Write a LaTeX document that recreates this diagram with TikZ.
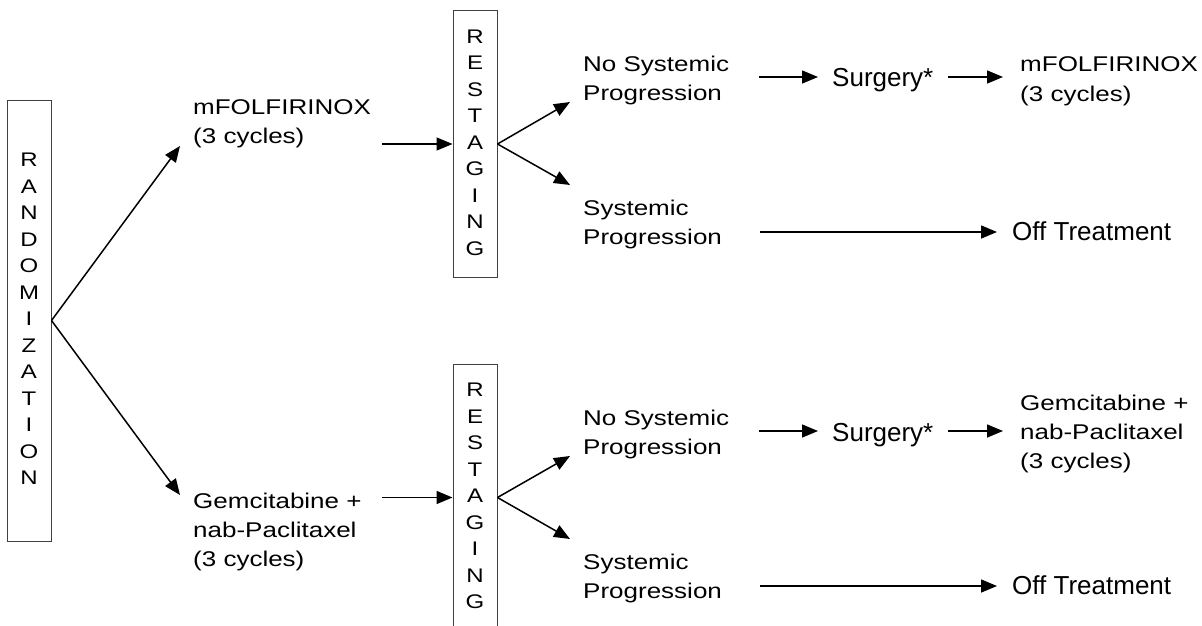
\documentclass[tikz,border=0pt]{standalone}
\usepackage{fontspec}
\setmainfont{Liberation Sans}
\usepackage{graphicx}
\usetikzlibrary{arrows.meta}

% multi-line label, slightly condensed vertically; baseline = first line
\newcommand\flowlines[1]{\scalebox{1}[0.82]{\begin{tabular}[t]{@{}l@{}}#1\end{tabular}}}
% one letter per line, centred
\newcommand\stackletters[1]{\scalebox{1}[0.82]{\begin{tabular}{@{}c@{}}#1\end{tabular}}}

\tikzset{
  lbl/.style={inner sep=0pt, anchor=base west, font=\fontsize{26}{35.7}\selectfont},
  vbox/.style={draw=black!75, line width=1pt, minimum width=44pt, inner sep=0pt,
               font=\fontsize{24}{32.3}\selectfont},
  arr/.style={line width=1.5pt, -{Triangle[length=16pt,width=13pt]}},
}

\begin{document}
\begin{tikzpicture}[x=1pt, y=-1pt]
\useasboundingbox (0,0) rectangle (1202,626);

% randomization column
\node[vbox, minimum height=441pt] (rand) at (29,320.5)
  {\stackletters{R\\A\\N\\D\\O\\M\\I\\Z\\A\\T\\I\\O\\N}};

% first arm
\node[lbl] (folA) at (193,114) {\flowlines{mFOLFIRINOX\\(3 cycles)}};
\node[vbox, minimum height=266pt] (rsA) at (475,144)
  {\stackletters{R\\E\\S\\T\\A\\G\\I\\N\\G}};
\node[lbl] (noA) at (583,71) {\flowlines{No Systemic\\Progression}};
\node[lbl] (sysA) at (583,215) {\flowlines{Systemic\\Progression}};
\node[lbl] (surgA) at (832,87) {Surgery*};
\node[lbl] (adjA) at (1020,72) {\flowlines{mFOLFIRINOX\\(3 cycles)}};
\node[lbl] (offA) at (1012,240) {Off Treatment};

% second arm
\node[lbl] (gemB) at (193,508) {\flowlines{Gemcitabine +\\nab-Paclitaxel\\(3 cycles)}};
\node[vbox, minimum height=266pt] (rsB) at (475,497.5)
  {\stackletters{R\\E\\S\\T\\A\\G\\I\\N\\G}};
\node[lbl] (noB) at (583,425) {\flowlines{No Systemic\\Progression}};
\node[lbl] (sysB) at (583,569) {\flowlines{Systemic\\Progression}};
\node[lbl] (surgB) at (832,441) {Surgery*};
\node[lbl] (adjB) at (1020,410) {\flowlines{Gemcitabine +\\nab-Paclitaxel\\(3 cycles)}};
\node[lbl] (offB) at (1012,594) {Off Treatment};

% connector end points
\coordinate (toA) at (180,146);
\coordinate (toB) at (180,495);
\coordinate (fromA) at (382,144);
\coordinate (fromB) at (382,497.5);
\coordinate (upA) at (570,102);
\coordinate (dnA) at (570,185);
\coordinate (upB) at (570,456);
\coordinate (dnB) at (570,539);
\coordinate (s1A) at (759,77);
\coordinate (e1A) at (818,77);
\coordinate (s2A) at (948,77);
\coordinate (e2A) at (1003,77);
\coordinate (s3A) at (760,232);
\coordinate (e3A) at (997,232);
\coordinate (s1B) at (759,431);
\coordinate (e1B) at (818,431);
\coordinate (s2B) at (948,431);
\coordinate (e2B) at (1003,431);
\coordinate (s3B) at (760,586);
\coordinate (e3B) at (997,586);

% randomization split
\draw[arr] (rand.east) -- (toA);
\draw[arr] (rand.east) -- (toB);

% into restaging
\draw[arr] (fromA) -- (rsA.west);
\draw[arr] (fromB) -- (rsB.west);

% restaging outcomes
\draw[arr] (rsA.east) -- (upA);
\draw[arr] (rsA.east) -- (dnA);
\draw[arr] (rsB.east) -- (upB);
\draw[arr] (rsB.east) -- (dnB);

% onward paths
\draw[arr] (s1A) -- (e1A);
\draw[arr] (s2A) -- (e2A);
\draw[arr] (s3A) -- (e3A);
\draw[arr] (s1B) -- (e1B);
\draw[arr] (s2B) -- (e2B);
\draw[arr] (s3B) -- (e3B);
\end{tikzpicture}
\end{document}
